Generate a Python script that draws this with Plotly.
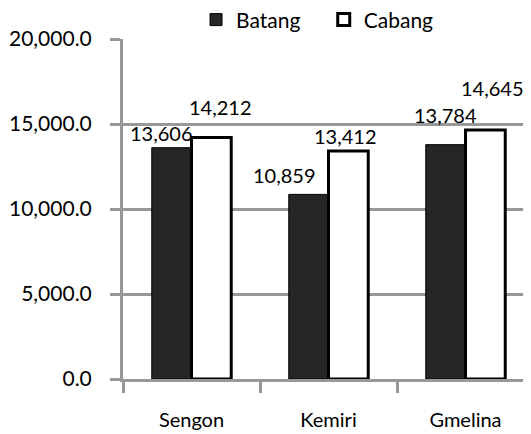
import plotly.graph_objects as go

categories = ["Sengon", "Kemiri", "Gmelina"]
batang = [13606, 10859, 13784]
cabang = [14212, 13412, 14645]
series_names = ["Batang", "Cabang"]

# label offsets (pixels) relative to bar centre / bar top
label_dx = [[-10, -24, 0], [9, -3, 7]]
label_dy = [[15, 19, 30], [30, 15, 42]]

FONT = "Lato"
GRID = "#989898"
BARGAP = 0.42
PLOT_W = 408
RANGE = [-0.5, 2.478]

fig = go.Figure()
fig.add_trace(go.Bar(name=series_names[0], x=categories, y=batang, legend="legend",
                     marker=dict(color="#262626", line=dict(color="#000000", width=1))))
fig.add_trace(go.Bar(name=series_names[1], x=categories, y=cabang, legend="legend2",
                     marker=dict(color="#ffffff", line=dict(color="#000000", width=3))))

px_per_cat = PLOT_W / (RANGE[1] - RANGE[0])
bar_w = px_per_cat * (1 - BARGAP) / 2
annotations = []
for s, vals in enumerate([batang, cabang]):
    base = (-0.5 if s == 0 else 0.5) * bar_w
    for i, v in enumerate(vals):
        annotations.append(dict(
            x=categories[i], y=v, xref="x", yref="y",
            text=f"{v:,}", showarrow=False,
            xshift=base + label_dx[s][i], yshift=label_dy[s][i],
            xanchor="center", yanchor="middle",
            font=dict(family=FONT, size=20, color="#000000")))

legend_style = dict(orientation="h", xanchor="left", y=1.056, yanchor="middle",
                    font=dict(family=FONT, size=21, color="#000000"),
                    bgcolor="rgba(0,0,0,0)", itemwidth=30)

fig.update_layout(
    width=523, height=426,
    margin=dict(l=115, r=0, t=31, b=55, autoexpand=False),
    paper_bgcolor="white", plot_bgcolor="white",
    barmode="group", bargap=BARGAP, bargroupgap=0,
    showlegend=True,
    legend=dict(x=0.179, **legend_style),
    legend2=dict(x=0.492, **legend_style),
    annotations=annotations,
    font=dict(family=FONT, color="#000000"),
)
fig.update_xaxes(type="category", range=RANGE, showline=True, linecolor=GRID, linewidth=3,
                 ticks="outside", tickson="boundaries", ticklen=11, tickwidth=3, tickcolor=GRID,
                 showgrid=False, tickfont=dict(family=FONT, size=20, color="#000000"),
                 ticklabelstandoff=21, automargin=False)
fig.update_yaxes(range=[0, 20000], dtick=5000, tickformat=",.1f", showline=True,
                 linecolor=GRID, linewidth=3, showgrid=True, gridcolor=GRID, gridwidth=3,
                 ticks="outside", ticklen=10, tickwidth=3, tickcolor=GRID, zeroline=False,
                 tickfont=dict(family=FONT, size=21, color="#000000"), ticklabelstandoff=14,
                 automargin=False)

fig.write_html("out.html")
